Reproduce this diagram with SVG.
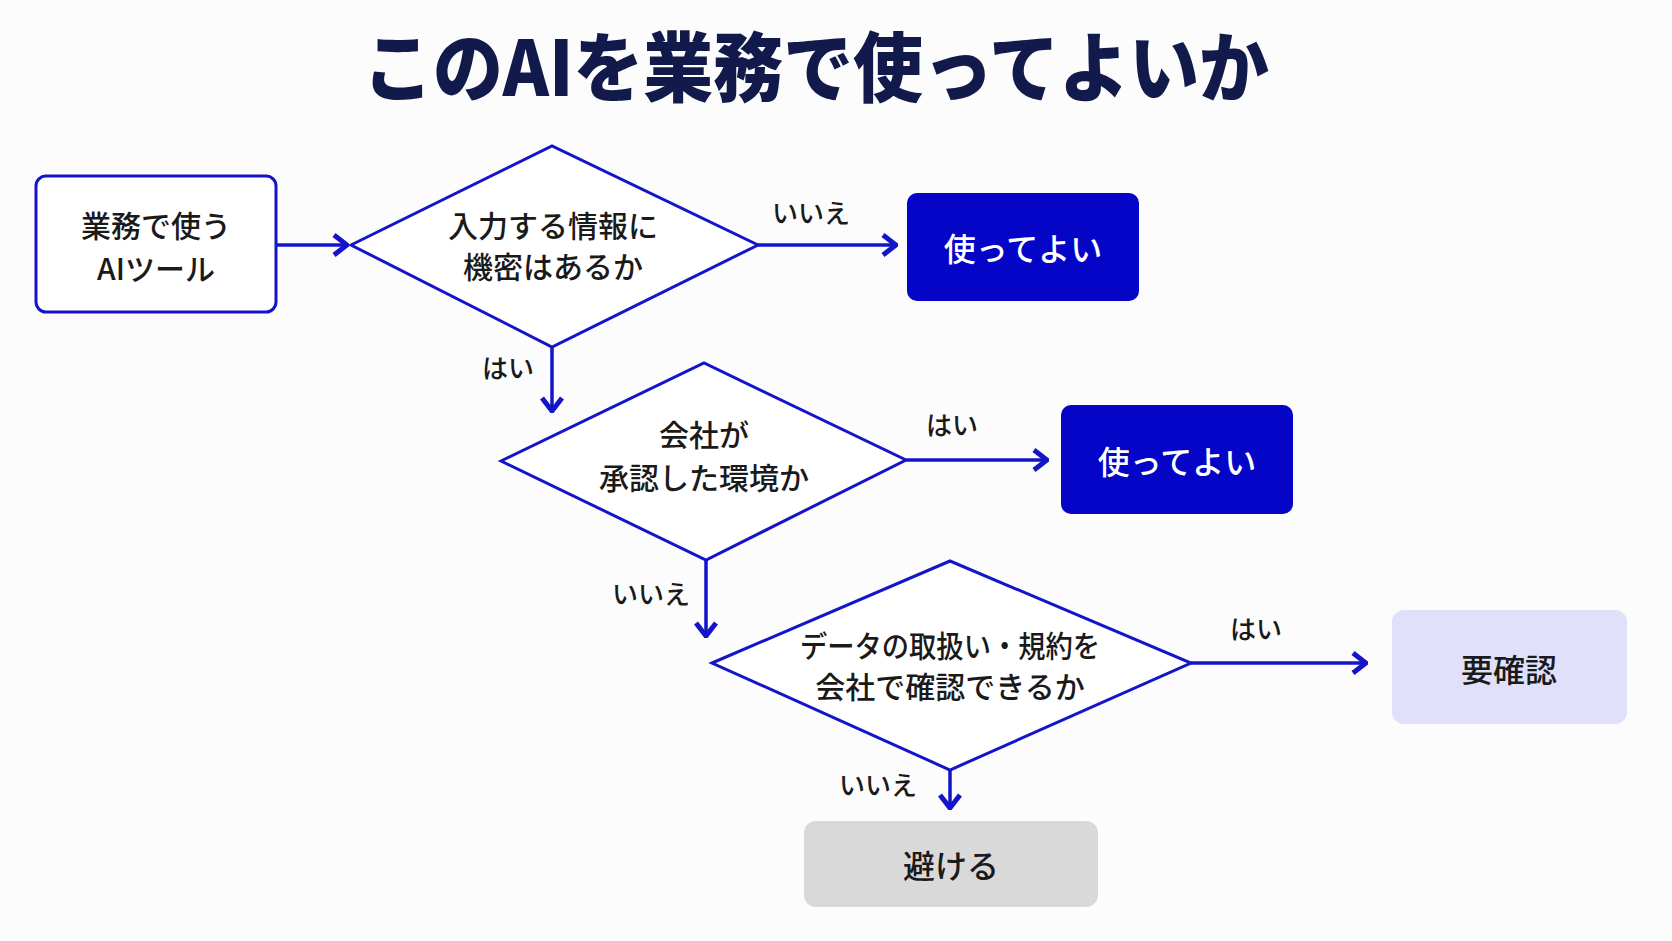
<svg xmlns="http://www.w3.org/2000/svg" width="1672" height="941" viewBox="0 0 1672 941">
<defs>
<style>
.t{font-family:"Noto Sans CJK JP","Noto Sans",sans-serif;text-anchor:middle;dominant-baseline:central}
.body{font-size:30px;fill:#1a1a1a;font-weight:500}
.lbl{font-size:26px;fill:#1a1a1a;font-weight:500}
.ok{font-size:32px;fill:#ffffff;font-weight:500}
.dark{font-size:32px;fill:#1a1a1a;font-weight:500}
.dia{fill:#ffffff;stroke:#1414c8;stroke-width:3;stroke-linejoin:miter}
.conn{stroke:#1414c8;stroke-width:3.5;fill:none}
</style>
<marker id="ah" viewBox="0 0 18 24" refX="16" refY="12" markerWidth="18" markerHeight="24" markerUnits="userSpaceOnUse" orient="auto">
<path d="M3,2 L16,12 L3,22" fill="none" stroke="#1414c8" stroke-width="5" stroke-linejoin="miter"/>
</marker>
</defs>
<rect width="1672" height="941" fill="#fcfcfd"/>
<text class="t" x="816" y="63" textLength="906" lengthAdjust="spacingAndGlyphs" style="font-size:76px;font-weight:900;fill:#111a4a">このAIを業務で使ってよいか</text>

<g id="connectors">
<line class="conn" x1="276" y1="245" x2="347" y2="245" marker-end="url(#ah)"/>
<line class="conn" x1="758" y1="245" x2="896" y2="245" marker-end="url(#ah)"/>
<line class="conn" x1="552" y1="347" x2="552" y2="411" marker-end="url(#ah)"/>
<line class="conn" x1="906" y1="460" x2="1047" y2="460" marker-end="url(#ah)"/>
<line class="conn" x1="706" y1="560" x2="706" y2="636" marker-end="url(#ah)"/>
<line class="conn" x1="1191" y1="663" x2="1366" y2="663" marker-end="url(#ah)"/>
<line class="conn" x1="950" y1="770" x2="950" y2="808" marker-end="url(#ah)"/>
<text class="t lbl" x="811" y="211">いいえ</text>
<text class="t lbl" x="508" y="366">はい</text>
<text class="t lbl" x="952" y="423">はい</text>
<text class="t lbl" x="651" y="592">いいえ</text>
<text class="t lbl" x="1256" y="627">はい</text>
<text class="t lbl" x="878" y="783">いいえ</text>
</g>

<g id="start">
<rect x="36" y="176" width="240" height="136" rx="10" fill="#ffffff" stroke="#1414c8" stroke-width="3"/>
<text class="t body" x="156" y="224">業務で使う</text>
<text class="t body" x="156" y="267">AIツール</text>
</g>

<g id="q1">
<polygon class="dia" points="351,245 552,146 758,245 552,347"/>
<text class="t body" x="553" y="224">入力する情報に</text>
<text class="t body" x="553" y="265">機密はあるか</text>
</g>

<g id="ok1">
<rect x="907" y="193" width="232" height="108" rx="10" fill="#0505c8"/>
<text class="t ok" x="1023" y="247">使ってよい</text>
</g>

<g id="q2">
<polygon class="dia" points="501,461 704,363 906,460 706,560"/>
<text class="t body" x="704" y="433">会社が</text>
<text class="t body" x="704" y="476">承認した環境か</text>
</g>

<g id="ok2">
<rect x="1061" y="405" width="232" height="109" rx="10" fill="#0505c8"/>
<text class="t ok" x="1177" y="460">使ってよい</text>
</g>

<g id="q3">
<polygon class="dia" points="712,663 950,561 1191,663 950,770"/>
<text class="t body" x="950" y="644" textLength="300" lengthAdjust="spacingAndGlyphs">データの取扱い・規約を</text>
<text class="t body" x="950" y="685">会社で確認できるか</text>
</g>

<g id="check">
<rect x="1392" y="610" width="235" height="114" rx="12" fill="#e0e0fa"/>
<text class="t dark" x="1509" y="668">要確認</text>
</g>

<g id="avoid">
<rect x="804" y="821" width="294" height="86" rx="12" fill="#d9d9d9"/>
<text class="t dark" x="951" y="864">避ける</text>
</g>
</svg>
